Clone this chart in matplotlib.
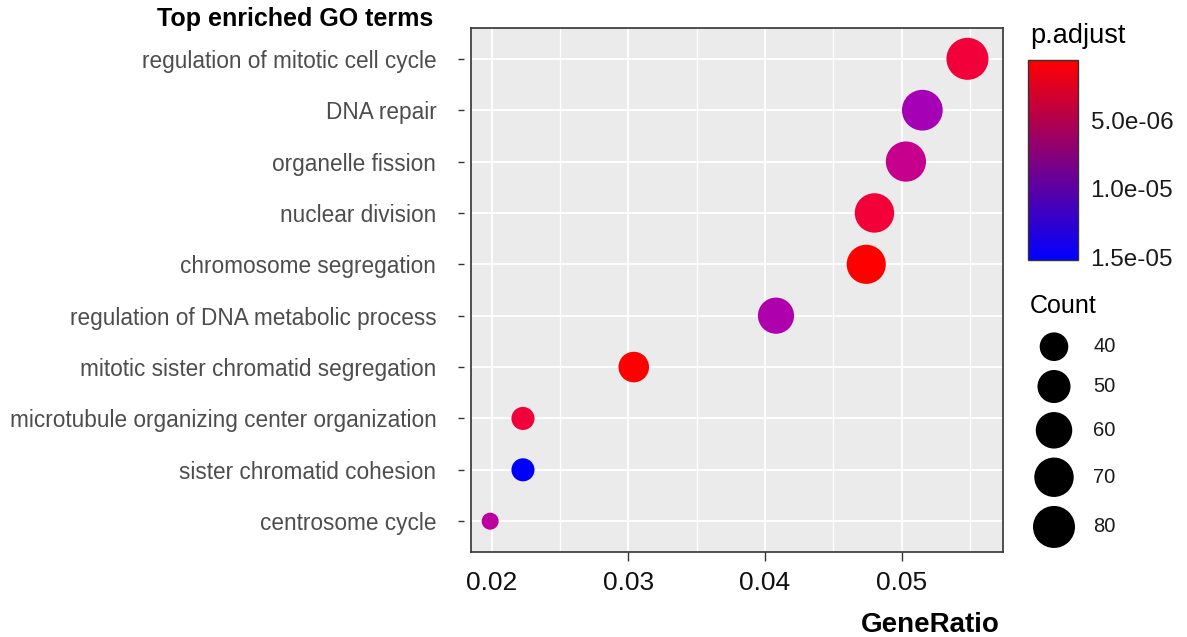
import numpy as np
import matplotlib
matplotlib.use("Agg")
import matplotlib.pyplot as plt
from matplotlib.colors import ListedColormap, LinearSegmentedColormap, Normalize
from matplotlib.cm import ScalarMappable

plt.rcParams["font.family"] = ["Liberation Sans", "DejaVu Sans"]

# GO terms, top to bottom as shown
terms = [
    "regulation of mitotic cell cycle",
    "DNA repair",
    "organelle fission",
    "nuclear division",
    "chromosome segregation",
    "regulation of DNA metabolic process",
    "mitotic sister chromatid segregation",
    "microtubule organizing center organization",
    "sister chromatid cohesion",
    "centrosome cycle",
]
gene_ratio = [0.0548, 0.0515, 0.0503, 0.0480, 0.0474, 0.0408, 0.0304, 0.0223, 0.0223, 0.0199]
counts = [80, 75, 73, 70, 69, 59, 44, 32, 32, 29]
p_adjust = [2.9e-6, 1.08e-5, 8.2e-6, 2.8e-6, 6.1e-7, 1.02e-5, 6.1e-7, 3.0e-6, 1.52e-5, 9.2e-6]

count_breaks = [40, 50, 60, 70, 80]
p_breaks = [5e-6, 1e-5, 1.5e-5]
x_ticks = [0.02, 0.03, 0.04, 0.05]

W, H = 1187, 637
PX = 0.72  # points per pixel at dpi 100


# red -> blue gradient interpolated in Lab space for the points (like ggplot)
def srgb_to_lab(rgb):
    rgb = np.asarray(rgb, float)
    c = np.where(rgb <= 0.04045, rgb / 12.92, ((rgb + 0.055) / 1.055) ** 2.4)
    M = np.array([[0.4124, 0.3576, 0.1805], [0.2126, 0.7152, 0.0722], [0.0193, 0.1192, 0.9505]])
    xyz = M @ c / np.array([0.95047, 1.0, 1.08883])
    d = 6 / 29
    f = np.where(xyz > d ** 3, np.cbrt(xyz), xyz / (3 * d * d) + 4 / 29)
    return np.array([116 * f[1] - 16, 500 * (f[0] - f[1]), 200 * (f[1] - f[2])])


def lab_to_srgb(lab):
    L, a, b = lab
    fy = (L + 16) / 116
    f = np.array([fy + a / 500, fy, fy - b / 200])
    d = 6 / 29
    xyz = np.where(f > d, f ** 3, 3 * d * d * (f - 4 / 29)) * np.array([0.95047, 1.0, 1.08883])
    Minv = np.array([[3.2406, -1.5372, -0.4986], [-0.9689, 1.8758, 0.0415], [0.0557, -0.2040, 1.0570]])
    c = Minv @ xyz
    c = np.where(c <= 0.0031308, 12.92 * c, 1.055 * np.clip(c, 0, None) ** (1 / 2.4) - 0.055)
    return np.clip(c, 0, 1)


lab_lo = srgb_to_lab([1, 0, 0])
lab_hi = srgb_to_lab([0, 0, 1])
cmap = ListedColormap([lab_to_srgb(lab_lo + t * (lab_hi - lab_lo)) for t in np.linspace(0, 1, 256)])
# the legend bar in the picture blends straight in RGB
cmap_bar = LinearSegmentedColormap.from_list("rb", ["#FF0000", "#0000FF"])
norm = Normalize(vmin=min(p_adjust), vmax=max(p_adjust))


def diam_px(c):
    c = np.asarray(c, float)
    lo, hi = min(counts), max(counts)
    return 17 + 25 * np.sqrt(np.clip((c - lo) / (hi - lo), 0, 1))


fig = plt.figure(figsize=(W / 100, H / 100), dpi=100)
ax = fig.add_axes([471 / W, 1 - 552 / H, 532 / W, 524 / H])
ax.set_facecolor("#EBEBEB")

n = len(terms)
ypos = np.arange(n, 0, -1)

for v in np.arange(0.015, 0.0601, 0.005):
    lw = 1.3 if abs(v * 100 - round(v * 100)) < 1e-9 else 1.0
    ax.axvline(v, color="white", lw=lw, zorder=1)
for yv in ypos:
    ax.axhline(yv, color="white", lw=1.3, zorder=1)

ax.scatter(gene_ratio, ypos, s=(diam_px(counts) * PX) ** 2, c=p_adjust, cmap=cmap, norm=norm,
           edgecolors="none", zorder=3)

ax.set_xlim(0.0185, 0.0574)
ax.set_ylim(0.4, n + 0.6)
ax.set_xticks(x_ticks)
ax.set_xticklabels([f"{t:.2f}" for t in x_ticks], fontsize=19, color="#111111")
ax.tick_params(axis="x", length=6.5, width=1.0, color="#333333", pad=7)
ax.xaxis.get_major_ticks()[0].tick1line.set_visible(False)
ax.set_yticks(ypos)
ax.set_yticklabels(terms, fontsize=16.3, color="#4D4D4D")
ax.tick_params(axis="y", length=0, pad=25)
ax.plot([-10 / 532] * n, ypos, ls="none", marker="_", ms=6 * PX, mew=1.0, color="#333333",
        transform=ax.get_yaxis_transform(), clip_on=False)
for sp in ax.spines.values():
    sp.set_color("#333333")
    sp.set_linewidth(1.2)

fig.text(433 / W, 1 - 19 / H, "Top enriched GO terms", ha="right", va="center",
         fontsize=18, fontweight="bold")
fig.text(1000 / W, 1 - 625 / H, "GeneRatio", ha="right", va="center",
         fontsize=20, fontweight="bold")

# colour bar
cax = fig.add_axes([1028 / W, 1 - 260 / H, 50 / W, 200 / H])
cb = fig.colorbar(ScalarMappable(norm=norm, cmap=cmap_bar), cax=cax)
cax.invert_yaxis()
cb.set_ticks(p_breaks)
cb.set_ticklabels([f"{b:.1e}" for b in p_breaks])
cax.tick_params(length=0, pad=9, labelsize=17.5, labelcolor="#1A1A1A")
cb.outline.set_edgecolor("#333333")
cb.outline.set_linewidth(1.0)
fig.text(1030 / W, 1 - 43 / H, "p.adjust", ha="left", va="baseline", fontsize=19.5)

# size legend
fig.text(1030 / W, 1 - 313 / H, "Count", ha="left", va="baseline", fontsize=18)
lax = fig.add_axes([0, 0, 1, 1])
lax.set_xlim(0, W)
lax.set_ylim(H, 0)
lax.axis("off")
ds = diam_px(count_breaks)
ly = 346.7 + np.concatenate([[0], np.cumsum((ds[:-1] + ds[1:]) / 2 + 9)])
lax.scatter([1054] * len(count_breaks), ly, s=(ds * PX) ** 2, color="black", edgecolors="none")
for b, yy in zip(count_breaks, ly):
    lax.text(1093, yy, str(b), ha="left", va="center", fontsize=14.5, color="#1A1A1A")

fig.savefig("out.png", dpi=100)
